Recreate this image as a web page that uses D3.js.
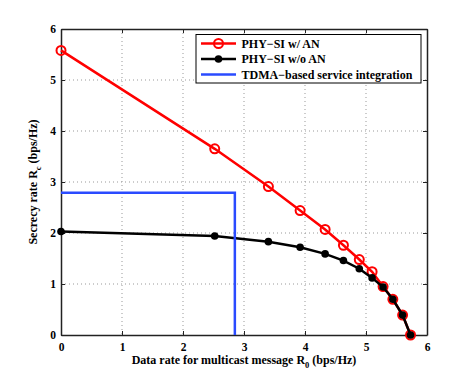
<!DOCTYPE html>
<html><head><meta charset="utf-8">
<script src="https://cdn.jsdelivr.net/npm/d3@7"></script>
<style>body{margin:0;background:#fff}svg{display:block}text{font-family:"Liberation Serif","Times New Roman","DejaVu Serif",serif;font-weight:bold}</style>
</head><body><svg id="c" width="471" height="377"></svg>
<script>
const xTicks = [0,1,2,3,4,5,6];
const yTicks = [0,1,2,3,4,5,6];
const r0 = [0, 2.52, 3.40, 3.92, 4.33, 4.63, 4.89, 5.10, 5.28, 5.44, 5.60, 5.73];
const rcWithAN = [5.58, 3.65, 2.91, 2.44, 2.07, 1.76, 1.48, 1.24, 0.95, 0.70, 0.39, 0.0];
const rcWithoutAN = [2.03, 1.94, 1.83, 1.72, 1.59, 1.46, 1.30, 1.12, 0.94, 0.70, 0.39, 0.0];
const tdmaX = [0, 2.85, 2.85];
const tdmaY = [2.79, 2.79, 0];
const seriesNames = ["PHY\u2212SI w/ AN", "PHY\u2212SI w/o AN", "TDMA\u2212based service integration"];

const FONT = '"Liberation Serif","Times New Roman","DejaVu Serif",serif';
const svg = d3.select("#c");
const L=61, R=427, T=29, B=335;
const x = d3.scaleLinear().domain([0,6]).range([L,R]);
const y = d3.scaleLinear().domain([0,6]).range([B,T]);

// grid
const g = svg.append("g");
g.selectAll(".gx").data(xTicks.slice(1,-1)).enter().append("line")
 .attr("x1",d=>x(d)).attr("x2",d=>x(d)).attr("y1",T).attr("y2",B)
 .attr("stroke","#999").attr("stroke-width",1).attr("stroke-dasharray","1,3");
g.selectAll(".gy").data(yTicks.slice(1,-1)).enter().append("line")
 .attr("y1",d=>y(d)).attr("y2",d=>y(d)).attr("x1",L).attr("x2",R)
 .attr("stroke","#999").attr("stroke-width",1).attr("stroke-dasharray","1,3");

// axes
const fmt = d3.format("d");
const axB = svg.append("g").attr("transform",`translate(0,${B})`).call(d3.axisBottom(x).tickValues(xTicks).tickSizeInner(-4).tickSizeOuter(0).tickPadding(8).tickFormat(fmt));
const axT = svg.append("g").attr("transform",`translate(0,${T})`).call(d3.axisTop(x).tickValues(xTicks).tickSizeInner(-4).tickSizeOuter(0).tickFormat(""));
const axL = svg.append("g").attr("transform",`translate(${L},0)`).call(d3.axisLeft(y).tickValues(yTicks).tickSizeInner(-4).tickSizeOuter(0).tickPadding(5).tickFormat(fmt));
const axR = svg.append("g").attr("transform",`translate(${R},0)`).call(d3.axisRight(y).tickValues(yTicks).tickSizeInner(-4).tickSizeOuter(0).tickFormat(""));
[axB,axT,axL,axR].forEach(a=>{
  a.attr("font-family",FONT).attr("font-size",11);
  a.select(".domain").attr("stroke","#222").attr("stroke-width",1.5);
  a.selectAll(".tick line").attr("stroke","#222");
  a.selectAll("text").attr("font-size",11.5).attr("fill","#000").attr("font-family",FONT).attr("font-weight","bold");
});

const line = d3.line().x(d=>x(d[0])).y(d=>y(d[1]));
const redData = r0.map((v,i)=>[v,rcWithAN[i]]);
const blackData = r0.map((v,i)=>[v,rcWithoutAN[i]]);
const blueData = tdmaX.map((v,i)=>[v,tdmaY[i]]);

svg.append("path").datum(redData).attr("d",line).attr("fill","none").attr("stroke","#ff0000").attr("stroke-width",2.5);
svg.selectAll(".rm").data(redData).enter().append("circle").attr("cx",d=>x(d[0])).attr("cy",d=>y(d[1])).attr("r",4.5)
 .attr("fill","none").attr("stroke","#ff0000").attr("stroke-width",2);
svg.append("path").datum(blackData).attr("d",line).attr("fill","none").attr("stroke","#000").attr("stroke-width",2.5);
svg.selectAll(".bm").data(blackData).enter().append("circle").attr("cx",d=>x(d[0])).attr("cy",d=>y(d[1])).attr("r",3.8)
 .attr("fill","#000");
svg.append("path").datum(blueData).attr("d",line).attr("fill","none").attr("stroke","#2a4bff").attr("stroke-width",2.5);

// labels
svg.append("text").attr("x",(L+R)/2).attr("y",364).attr("text-anchor","middle").attr("font-size",12).attr("font-family",FONT)
 .html('Data rate for multicast message R<tspan dy="4" font-size="8.5">0</tspan><tspan dy="-4"> (bps/Hz)</tspan>');
svg.append("text").attr("transform",`translate(37,${(T+B)/2}) rotate(-90)`).attr("text-anchor","middle").attr("font-size",12).attr("font-family",FONT)
 .html('Secrecy rate R<tspan dy="4" font-size="8.5">c</tspan><tspan dy="-4"> (bps/Hz)</tspan>');

// legend
const lg = svg.append("g");
lg.append("rect").attr("x",196).attr("y",34.5).attr("width",225).attr("height",48.5).attr("fill","#fff").attr("stroke","#000").attr("stroke-width",1);
const ly = [43.5, 59, 74.5];
const cols = ["#ff0000","#000","#2a4bff"];
ly.forEach((yy,i)=>{
  lg.append("line").attr("x1",201).attr("x2",236).attr("y1",yy).attr("y2",yy).attr("stroke",cols[i]).attr("stroke-width",2.5);
  if(i===0) lg.append("circle").attr("cx",218.5).attr("cy",yy).attr("r",4.5).attr("fill","none").attr("stroke",cols[i]).attr("stroke-width",2);
  if(i===1) lg.append("circle").attr("cx",218.5).attr("cy",yy).attr("r",3.8).attr("fill",cols[i]);
  lg.append("text").attr("x",241.5).attr("y",yy+4).attr("font-size",12).attr("font-family",FONT).text(seriesNames[i]);
});
</script></body></html>
